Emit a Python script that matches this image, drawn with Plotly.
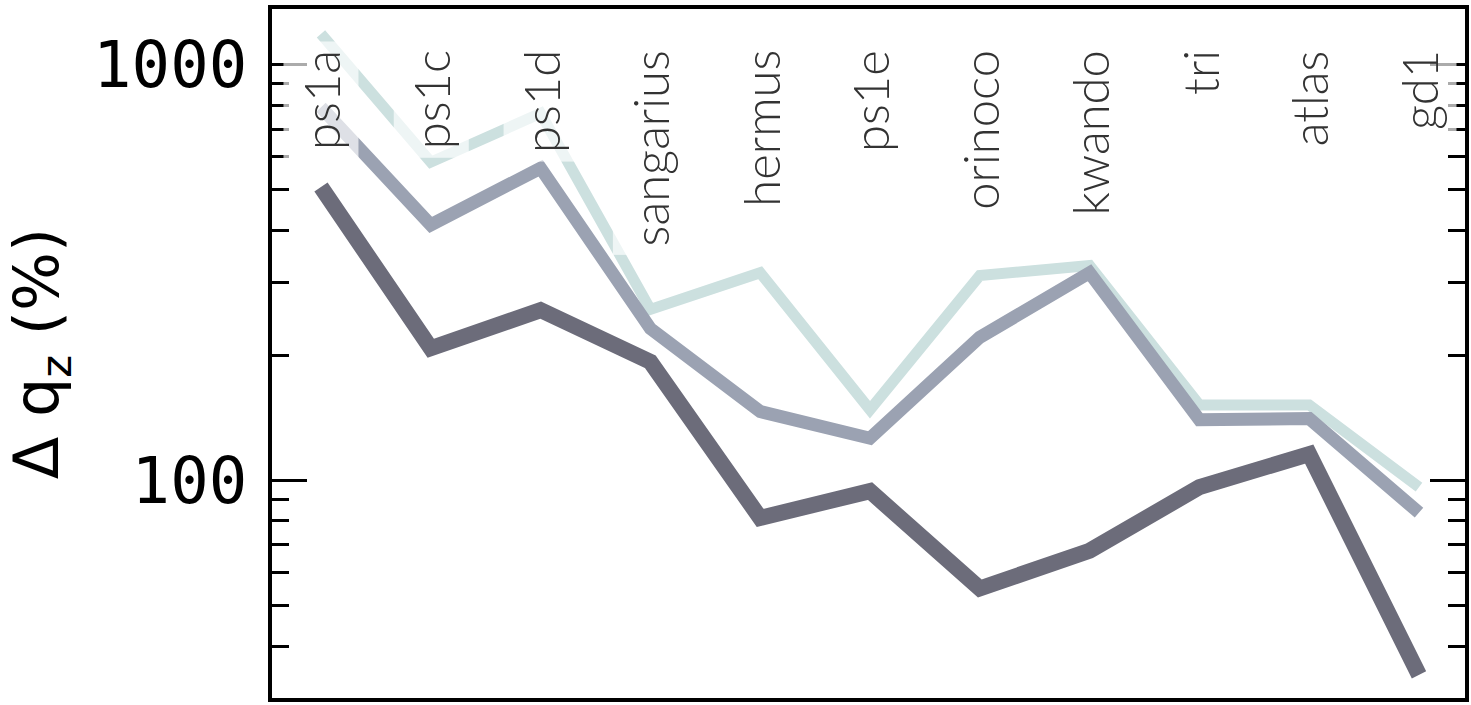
import plotly.graph_objects as go

categories = ["ps1a", "ps1c", "ps1d", "sangarius", "hermus", "ps1e",
              "orinoco", "kwando", "tri", "atlas", "gd1"]

series_light = [1186, 583, 764, 258, 316, 148, 311, 329, 152, 152, 96.4]
series_medium = [790, 412, 564, 232, 146.5, 126.4, 221, 316, 140, 141, 83.7]
series_dark = [508, 208, 257, 193, 81.3, 94.3, 55.0, 67.8, 96.4, 115.8, 34.1]

major_ticks = [100, 1000]
major_labels = ["100", "1000"]
minor_ticks = [40, 50, 60, 70, 80, 90, 200, 300, 400, 500, 600, 700, 800, 900]

fig = go.Figure()
for vals, color, width in [
    (series_light, "#cce0df", 11),
    (series_medium, "#9ba2b2", 13),
    (series_dark, "#6c6c7a", 16),
]:
    fig.add_trace(go.Scatter(
        x=categories, y=vals, mode="lines",
        line=dict(color=color, width=width),
        showlegend=False, hoverinfo="skip",
    ))

for cat in categories:
    fig.add_annotation(
        x=cat, xref="x", y=1, yref="paper",
        xanchor="center", yanchor="top", yshift=-32,
        text=cat, textangle=-90, showarrow=False,
        font=dict(family="Lato", size=49, color="#333333", weight=300),
        bgcolor="rgba(255,255,255,0.67)", borderpad=8,
    )

fig.update_layout(
    width=1471, height=705,
    margin=dict(l=272, r=6, t=5, b=7),
    paper_bgcolor="white", plot_bgcolor="white",
    xaxis=dict(
        type="category", range=[-0.446, 10.419],
        showline=True, linecolor="black", linewidth=4, mirror=True,
        showticklabels=False, ticks="", showgrid=False, zeroline=False,
    ),
    yaxis=dict(
        type="log", range=[1.477, 3.134],
        showline=True, linecolor="black", linewidth=4, mirror="ticks",
        ticks="inside", ticklen=35, tickwidth=3, tickcolor="black",
        tickvals=major_ticks, ticktext=major_labels,
        tickfont=dict(family="DejaVu Sans Mono", size=64, color="black"),
        ticklabelstandoff=8,
        minor=dict(tickvals=minor_ticks, ticks="inside", ticklen=17,
                   tickwidth=3, tickcolor="black", showgrid=False),
        showgrid=False, zeroline=False,
        title=dict(text="Δ q<sub>z</sub> (%)", standoff=28,
                   font=dict(family="DejaVu Sans", size=62, color="black")),
        automargin=False,
    ),
)

fig.write_html("out.html")
